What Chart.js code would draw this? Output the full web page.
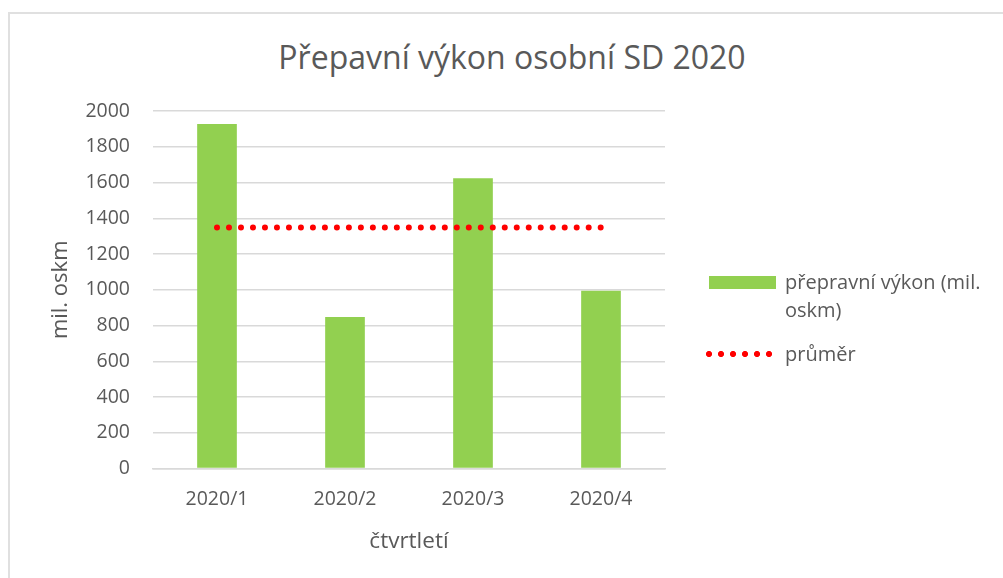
<!DOCTYPE html>
<html>
<head>
<meta charset="utf-8">
<script src="https://cdn.jsdelivr.net/npm/chart.js@4"></script>
<style>
  html, body { margin: 0; padding: 0; background: #fff; }
  #wrap { position: relative; width: 1003px; height: 578px; overflow: hidden; font-family: "Open Sans", sans-serif; color: #595959; }
  #frame { position: absolute; left: 8px; top: 12px; width: 1100px; height: 700px; border-top: 2px solid #e0e0e0; border-left: 2px solid #e0e0e0; }
  #title { position: absolute; left: 0; width: 1024px; top: 35px; text-align: center; font-size: 32px; }
  #legend { position: absolute; left: 706px; top: 268px; font-size: 20px; line-height: 28px; }
  .item { display: flex; align-items: flex-start; }
  .swatch { width: 67px; height: 13px; background: #92d050; margin-top: 8px; margin-left: 3px; margin-right: 9px; flex: none; }
  .dots { width: 70px; height: 6px; margin-top: 11px; margin-left: -3px; margin-right: 12px; flex: none;
    background-image: radial-gradient(circle, #ff0000 2.8px, transparent 3.2px);
    background-size: 12px 6px; background-repeat: repeat-x; }
  canvas { position: absolute; left: 0; top: 0; }
</style>
</head>
<body>
<div id="wrap">
  <div id="frame"></div>
  <div id="title">Přepavní výkon osobní SD 2020</div>
  <canvas id="myChart" width="1003" height="578"></canvas>
  <div id="legend">
    <div class="item"><div class="swatch"></div><div>přepravní výkon (mil.<br>oskm)</div></div>
    <div class="item" style="margin-top: 16px;"><div class="dots"></div><div>průměr</div></div>
  </div>
</div>
<script>
const labels = ["2020/1", "2020/2", "2020/3", "2020/4"];
const vykon = [1927, 848, 1624, 994];
const prumer = [1348, 1348, 1348, 1348];

const ctx = document.getElementById('myChart');

const chart = new Chart(ctx, {
    type: 'bar',
    data: {
        labels: labels,
        datasets: [
            {
                type: 'line',
                label: 'průměr',
                data: prumer,
                borderColor: '#ff0000',
                borderWidth: 6,
                borderDash: [0, 11.99],
                borderCapStyle: 'round',
                pointRadius: 0,
                fill: false,
                order: 0
            },
            {
                label: 'přepravní výkon (mil. oskm)',
                data: vykon,
                backgroundColor: '#92d050',
                categoryPercentage: 1,
                barPercentage: 0.31,
                order: 1
            }
        ]
    },
    options: {
        responsive: false,
        animation: false,
        layout: {
            padding: { top: 111, right: 338, bottom: 19, left: 44 }
        },
        plugins: {
            legend: { display: false },
            title: { display: false },
            tooltip: { enabled: false }
        },
        scales: {
            x: {
                grid: { display: false },
                border: { color: '#d9d9d9', width: 1.5 },
                ticks: { color: '#595959', font: { family: 'Open Sans', size: 19.5 }, padding: 11 },
                title: { display: true, text: 'čtvrtletí', color: '#595959', font: { family: 'Open Sans', size: 22.5 }, padding: { top: 6 } }
            },
            y: {
                min: 0,
                max: 2000,
                ticks: {
                    stepSize: 200,
                    color: '#595959',
                    font: { family: 'Open Sans', size: 19.5 },
                    padding: 23,
                    callback: function (v) { return String(v); }
                },
                grid: { color: '#d9d9d9', lineWidth: 1.5, drawTicks: false },
                border: { display: false },
                title: { display: true, text: 'mil. oskm', color: '#595959', font: { family: 'Open Sans', size: 22 } },
                afterFit: function (scale) { scale.width = 109; }
            }
        }
    }
});
</script>
</body>
</html>
